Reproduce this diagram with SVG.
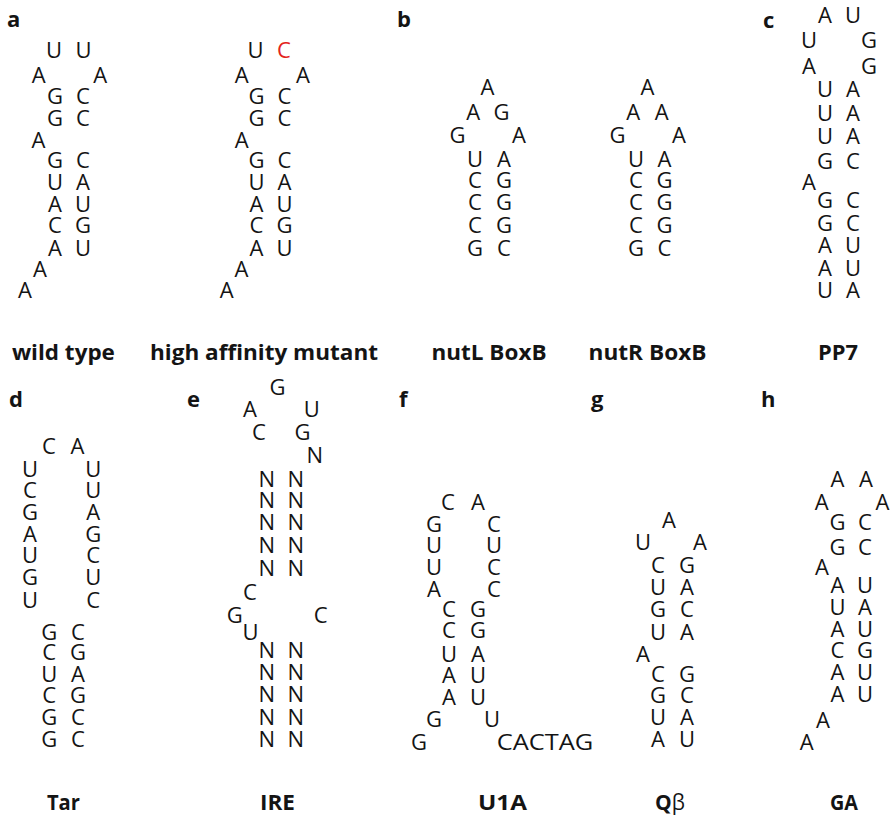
<svg xmlns="http://www.w3.org/2000/svg" width="893" height="819" viewBox="0 0 893 819">
<style>
text{font-family:"Open Sans","Liberation Sans",sans-serif;fill:#141414}
.n{font-size:22px;text-anchor:middle}
.red{fill:#e3231c}
.lab{font-size:21px;font-weight:bold;text-anchor:middle}
.pl{font-size:22px;font-weight:bold}
.bt{font-weight:normal}
</style>
<rect width="893" height="819" fill="#ffffff"/>
<g id="panel-letters" class="pl">
<text class="pl" x="7" y="27">a</text>
<text class="pl" x="397" y="27">b</text>
<text class="pl" x="763" y="28">c</text>
<text class="pl" x="9" y="407">d</text>
<text class="pl" x="187" y="407">e</text>
<text class="pl" x="399" y="407">f</text>
<text class="pl" x="591" y="407">g</text>
<text class="pl" x="761" y="407">h</text>
</g>
<g id="wild-type" class="n">
<text class="n" x="54 83.5" y="58">UU</text>
<text class="n" x="38.7 100.3" y="83">AA</text>
<text class="n" x="55 83" y="104">GC</text>
<text class="n" x="55 83" y="126">GC</text>
<text class="n" x="38.5" y="148">A</text>
<text class="n" x="55 83" y="168">GC</text>
<text class="n" x="55 83" y="190">UA</text>
<text class="n" x="55 83" y="212">AU</text>
<text class="n" x="55 83" y="233">CG</text>
<text class="n" x="55 83" y="256">AU</text>
<text class="n" x="40" y="277">A</text>
<text class="n" x="25" y="298">A</text>
<text class="lab" x="63.4" y="360" textLength="103" lengthAdjust="spacingAndGlyphs">wild type</text>
</g>
<g id="high-affinity-mutant">
<text class="n" x="255.5" y="58">U</text>
<text class="n red" x="284" y="58">C</text>
<text class="n" x="241.7 303" y="83">AA</text>
<text class="n" x="256.5 284.5" y="104">GC</text>
<text class="n" x="256.5 284.5" y="126">GC</text>
<text class="n" x="241.7" y="148">A</text>
<text class="n" x="256.5 284.5" y="168">GC</text>
<text class="n" x="256.5 284.5" y="190">UA</text>
<text class="n" x="256.5 284.5" y="212">AU</text>
<text class="n" x="256.5 284.5" y="233">CG</text>
<text class="n" x="256.5 284.5" y="256">AU</text>
<text class="n" x="241.5" y="277">A</text>
<text class="n" x="226.7" y="298">A</text>
<text class="lab" x="264" y="360" textLength="228" lengthAdjust="spacingAndGlyphs">high affinity mutant</text>
</g>
<g id="nutL-BoxB">
<text class="n" x="487.5" y="95">A</text>
<text class="n" x="473.3 501.5" y="120">AG</text>
<text class="n" x="457.5 519" y="143">GA</text>
<text class="n" x="475 504" y="167">UA</text>
<text class="n" x="475 504" y="188">CG</text>
<text class="n" x="475 504" y="210">CG</text>
<text class="n" x="475 504" y="233">CG</text>
<text class="n" x="475 504" y="256">GC</text>
<text class="lab" x="489" y="360" textLength="115" lengthAdjust="spacingAndGlyphs">nutL BoxB</text>
</g>
<g id="nutR-BoxB">
<text class="n" x="647.5" y="95">A</text>
<text class="n" x="633.3 661.7" y="120">AA</text>
<text class="n" x="617.5 679" y="143">GA</text>
<text class="n" x="636 664.5" y="167">UA</text>
<text class="n" x="636 664.5" y="188">CG</text>
<text class="n" x="636 664.5" y="210">CG</text>
<text class="n" x="636 664.5" y="233">CG</text>
<text class="n" x="636 664.5" y="256">GC</text>
<text class="lab" x="647.5" y="360" textLength="118" lengthAdjust="spacingAndGlyphs">nutR BoxB</text>
</g>
<g id="PP7">
<text class="n" x="825 853" y="23">AU</text>
<text class="n" x="809 869" y="48">UG</text>
<text class="n" x="809 869" y="74">AG</text>
<text class="n" x="825 853" y="97">UA</text>
<text class="n" x="825 853" y="121">UA</text>
<text class="n" x="825 853" y="144">UA</text>
<text class="n" x="825 853" y="169">GC</text>
<text class="n" x="809" y="190">A</text>
<text class="n" x="825 853" y="208">GC</text>
<text class="n" x="825 853" y="231">GC</text>
<text class="n" x="825 853" y="253">AU</text>
<text class="n" x="825 853" y="276">AU</text>
<text class="n" x="825 853" y="298">UA</text>
<text class="lab" x="838" y="360" textLength="40" lengthAdjust="spacingAndGlyphs">PP7</text>
</g>
<g id="Tar">
<text class="n" x="49 77.5" y="454">CA</text>
<text class="n" x="30 93.3" y="477">UU</text>
<text class="n" x="30 93.3" y="498">CU</text>
<text class="n" x="30 93.3" y="520">GA</text>
<text class="n" x="30 93.3" y="542">AG</text>
<text class="n" x="30 93.3" y="563">UC</text>
<text class="n" x="30 93.3" y="585">GU</text>
<text class="n" x="30 93.3" y="608">UC</text>
<text class="n" x="49.3 78" y="640">GC</text>
<text class="n" x="49.3 78" y="660">CG</text>
<text class="n" x="49.3 78" y="682">UA</text>
<text class="n" x="49.3 78" y="703">CG</text>
<text class="n" x="49.3 78" y="725">GC</text>
<text class="n" x="49.3 78" y="747">GC</text>
<text class="lab" x="63.4" y="810" textLength="33" lengthAdjust="spacingAndGlyphs">Tar</text>
</g>
<g id="IRE">
<text class="n" x="277.5" y="395">G</text>
<text class="n" x="250 311.7" y="417">AU</text>
<text class="n" x="259 302.5" y="440">CG</text>
<text class="n" x="314.7" y="463">N</text>
<text class="n" x="266.7 295.8" y="487">NN</text>
<text class="n" x="266.7 295.8" y="508">NN</text>
<text class="n" x="266.7 295.8" y="530">NN</text>
<text class="n" x="266.7 295.8" y="553">NN</text>
<text class="n" x="266.7 295.8" y="576">NN</text>
<text class="n" x="250" y="600">C</text>
<text class="n" x="234.7 320.8" y="623">GC</text>
<text class="n" x="250.5" y="640">U</text>
<text class="n" x="266.7 295.8" y="658">NN</text>
<text class="n" x="266.7 295.8" y="680">NN</text>
<text class="n" x="266.7 295.8" y="702">NN</text>
<text class="n" x="266.7 295.8" y="725">NN</text>
<text class="n" x="266.7 295.8" y="747">NN</text>
<text class="lab" x="277.5" y="810" textLength="35" lengthAdjust="spacingAndGlyphs">IRE</text>
</g>
<g id="U1A">
<text class="n" x="448 478" y="510">CA</text>
<text class="n" x="434 494" y="532">GC</text>
<text class="n" x="434 494" y="553">UU</text>
<text class="n" x="434 494" y="575">UC</text>
<text class="n" x="434 494" y="597">AC</text>
<text class="n" x="449 478" y="617">CG</text>
<text class="n" x="449 478" y="638">CG</text>
<text class="n" x="449 478" y="662">UA</text>
<text class="n" x="449 478" y="683">AU</text>
<text class="n" x="449 478" y="705">AU</text>
<text class="n" x="434 492" y="727">GU</text>
<text class="n" x="419" y="750">G</text>
<text x="496.7" y="750" font-size="22" textLength="96.6" lengthAdjust="spacingAndGlyphs">CACTAG</text>
<text class="lab" x="502.5" y="810" textLength="49" lengthAdjust="spacingAndGlyphs">U1A</text>
</g>
<g id="Qbeta">
<text class="n" x="669" y="528">A</text>
<text class="n" x="643 700" y="550">UA</text>
<text class="n" x="658 687" y="573">CG</text>
<text class="n" x="658 687" y="595">UA</text>
<text class="n" x="658 687" y="617">GC</text>
<text class="n" x="658 687" y="640">UA</text>
<text class="n" x="643" y="662">A</text>
<text class="n" x="658 687" y="682">CG</text>
<text class="n" x="658 687" y="703">GC</text>
<text class="n" x="658 687" y="725">UA</text>
<text class="n" x="658 687" y="747">AU</text>
<text class="lab" x="670" y="810">Q<tspan class="bt">β</tspan></text>
</g>
<g id="GA">
<text class="n" x="837.5 866" y="487">AA</text>
<text class="n" x="821.7 882.5" y="510">AA</text>
<text class="n" x="837.5 865" y="530">GC</text>
<text class="n" x="837.5 865" y="555">GC</text>
<text class="n" x="822" y="575">A</text>
<text class="n" x="837.5 865" y="593">AU</text>
<text class="n" x="837.5 865" y="615">UA</text>
<text class="n" x="837.5 865" y="637">AU</text>
<text class="n" x="837.5 865" y="658">CG</text>
<text class="n" x="837.5 865" y="680">AU</text>
<text class="n" x="837.5 865" y="702">AU</text>
<text class="n" x="823" y="728">A</text>
<text class="n" x="806.7" y="750">A</text>
<text class="lab" x="844" y="810" textLength="28" lengthAdjust="spacingAndGlyphs">GA</text>
</g>
</svg>
